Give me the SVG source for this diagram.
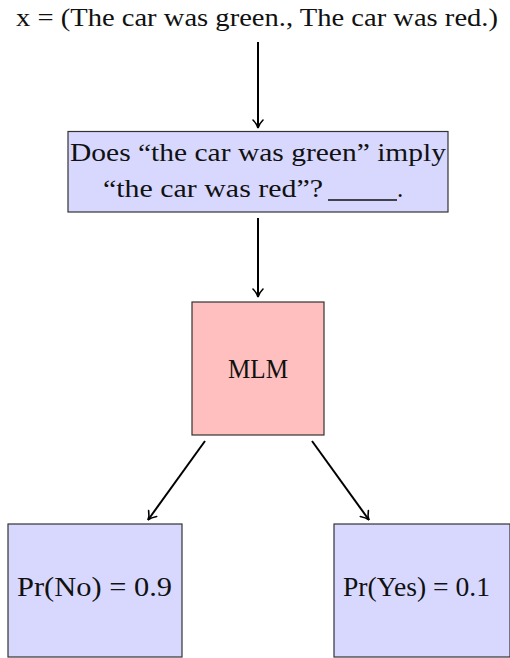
<svg xmlns="http://www.w3.org/2000/svg" width="510" height="658" viewBox="0 0 510 658">
<style>
text{font-family:"Liberation Serif","DejaVu Serif",serif;font-size:25px;fill:#111}
.big{font-size:27px}
.blue{fill:#d8d8ff;stroke:#333;stroke-width:1.2}
.red{fill:#ffbfbf;stroke:#333;stroke-width:1.2}
.conn line{stroke:#000;stroke-width:2;marker-end:url(#arr)}
</style>
<defs>
<marker id="arr" viewBox="0 0 12 12" refX="10" refY="6" markerWidth="12" markerHeight="12" markerUnits="userSpaceOnUse" orient="auto">
<path d="M2,1 Q6,5 10,6 Q6,7 2,11" fill="none" stroke="#000" stroke-width="1.6" stroke-linecap="round"/>
</marker>
</defs>
<g id="input"><text x="16" y="26" textLength="482" lengthAdjust="spacingAndGlyphs">x = (The car was green., The car was red.)</text></g>
<g id="prompt">
<rect class="blue" x="68" y="131.5" width="380" height="80.5"/>
<text x="70" y="161" textLength="376" lengthAdjust="spacingAndGlyphs">Does “the car was green” imply</text>
<text x="103" y="197" textLength="220" lengthAdjust="spacingAndGlyphs">“the car was red”?</text>
<line x1="328" y1="200" x2="397" y2="200" stroke="#111" stroke-width="1.4"/>
<text x="397" y="197">.</text>
</g>
<g id="mlm">
<rect class="red" x="192" y="302" width="132" height="133"/>
<text class="big" x="228" y="378" textLength="60" lengthAdjust="spacingAndGlyphs">MLM</text>
</g>
<g id="no">
<rect class="blue" x="8" y="524" width="174" height="133"/>
<text class="big" x="17" y="596" textLength="155" lengthAdjust="spacingAndGlyphs">Pr(No) = 0.9</text>
</g>
<g id="yes">
<rect class="blue" x="334" y="524" width="176" height="133"/>
<text class="big" x="343" y="596" textLength="147" lengthAdjust="spacingAndGlyphs">Pr(Yes) = 0.1</text>
</g>
<g class="conn">
<line x1="258" y1="42" x2="258" y2="128"/>
<line x1="258" y1="218" x2="258" y2="297"/>
<line x1="205" y1="441" x2="148" y2="520"/>
<line x1="312" y1="441" x2="369" y2="520"/>
</g>
</svg>
